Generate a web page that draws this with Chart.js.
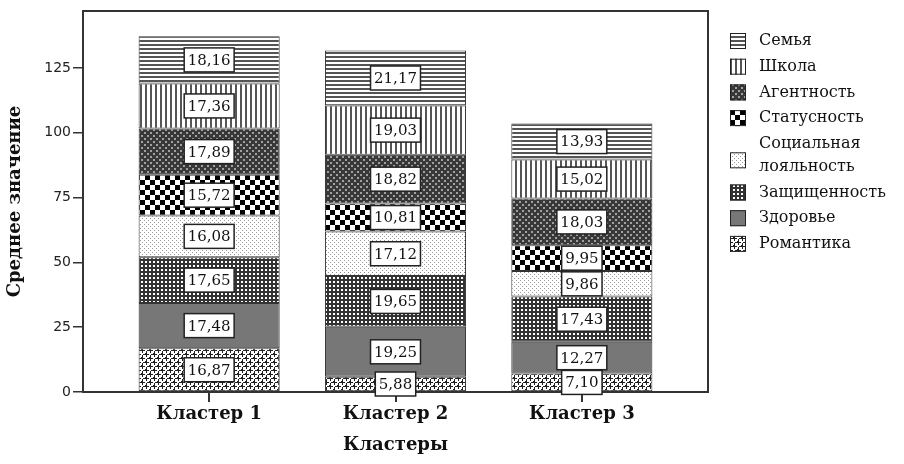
<!DOCTYPE html>
<html>
<head>
<meta charset="utf-8">
<script src="https://cdn.jsdelivr.net/npm/chart.js@4.4.1/dist/chart.umd.min.js"></script>
<style>
  html, body { margin: 0; padding: 0; background: #fff; }
  #wrap { width: 904px; height: 464px; }
</style>
</head>
<body>
<div id="wrap"><canvas id="clusterChart" width="904" height="464"></canvas></div>
<script>
const clusterLabels = ['Кластер 1', 'Кластер 2', 'Кластер 3'];
// bottom of the stack first, legend shows them in reverse
const seriesNames = ['Романтика', 'Здоровье', 'Защищенность', 'Социальная лояльность',
                     'Статусность', 'Агентность', 'Школа', 'Семья'];
const romance  = [16.87, 5.88, 7.10];
const health   = [17.48, 19.25, 12.27];
const security = [17.65, 19.65, 17.43];
const loyalty  = [16.08, 17.12, 9.86];
const status   = [15.72, 10.81, 9.95];
const agency   = [17.89, 18.82, 18.03];
const school   = [17.36, 19.03, 15.02];
const family   = [18.16, 21.17, 13.93];
const seriesValues = [romance, health, security, loyalty, status, agency, school, family];
const yTicks = [0, 25, 50, 75, 100, 125];

const serifFont = "'DejaVu Serif', 'Liberation Serif', serif";

// small tiles for the black & white fills
function tile(w, h, draw) {
    const c = document.createElement('canvas');
    c.width = w;
    c.height = h;
    const g = c.getContext('2d');
    g.fillStyle = '#fff';
    g.fillRect(0, 0, w, h);
    draw(g);
    return c.getContext('2d').createPattern(c, 'repeat');
}

const patterns = [
    // Романтика - plus signs
    tile(8, 8, g => {
        g.fillStyle = '#222';
        [[2, 2], [6, 6]].forEach(([cx, cy]) => {
            for (let dx = -8; dx <= 8; dx += 8) {
                for (let dy = -8; dy <= 8; dy += 8) {
                    g.fillRect(cx + dx - 3, cy + dy, 6, 1);
                    g.fillRect(cx + dx, cy + dy - 3, 1, 6);
                    g.fillRect(cx + dx - 1, cy + dy - 1, 2, 2);
                }
            }
        });
    }),
    // Здоровье - solid grey
    tile(4, 4, g => { g.fillStyle = '#777'; g.fillRect(0, 0, 4, 4); }),
    // Защищенность - dark grid
    tile(4, 4, g => {
        g.fillStyle = '#333'; g.fillRect(0, 0, 4, 4);
        g.fillStyle = '#fff'; g.fillRect(1, 1, 2, 2);
    }),
    // Социальная лояльность - light dots
    tile(4, 4, g => {
        g.fillStyle = '#999';
        g.fillRect(0, 0, 1, 1);
        g.fillRect(2, 2, 1, 1);
    }),
    // Статусность - checkerboard
    tile(10, 10, g => {
        g.fillStyle = '#000';
        g.fillRect(0, 0, 5, 5);
        g.fillRect(5, 5, 5, 5);
    }),
    // Агентность - dark with light dots
    tile(6, 6, g => {
        g.fillStyle = '#383838'; g.fillRect(0, 0, 6, 6);
        g.fillStyle = '#a0a0a0';
        g.fillRect(0, 0, 2, 2);
        g.fillRect(3, 3, 2, 2);
    }),
    // Школа - vertical lines
    tile(5, 5, g => { g.fillStyle = '#555'; g.fillRect(0, 0, 2, 5); }),
    // Семья - horizontal lines
    tile(4, 4, g => { g.fillStyle = '#555'; g.fillRect(0, 0, 4, 2); })
];

const datasets = seriesNames.map((name, s) => ({
    label: name,
    data: seriesValues[s].map((v, i) => ({ x: i, y: v })),
    backgroundColor: patterns[s],
    borderColor: '#333',
    borderWidth: 1,
    borderSkipped: false,
    barPercentage: 0.757,
    categoryPercentage: 1
}));

const framePlugin = {
    id: 'frame',
    beforeDatasetsDraw(chart) {
        const { ctx, chartArea: a } = chart;
        ctx.save();
        ctx.strokeStyle = '#333';
        ctx.lineWidth = 2;
        ctx.beginPath();
        ctx.moveTo(a.left, a.top);
        ctx.lineTo(a.right, a.top);
        ctx.lineTo(a.right, a.bottom);
        ctx.stroke();
        ctx.restore();
    }
};

const valueBoxes = {
    id: 'valueBoxes',
    afterDatasetsDraw(chart) {
        const { ctx } = chart;
        ctx.save();
        ctx.font = '15px ' + serifFont;
        ctx.textAlign = 'center';
        ctx.textBaseline = 'middle';
        chart.data.datasets.forEach((ds, s) => {
            chart.getDatasetMeta(s).data.forEach((bar, i) => {
                const txt = seriesValues[s][i].toFixed(2).replace('.', ',');
                const w = ctx.measureText(txt).width + 7;
                const h = 24;
                const cy = (bar.y + bar.base) / 2;
                ctx.fillStyle = '#fff';
                ctx.fillRect(bar.x - w / 2, cy - h / 2, w, h);
                ctx.strokeStyle = '#222';
                ctx.lineWidth = 1.5;
                ctx.strokeRect(bar.x - w / 2, cy - h / 2, w, h);
                ctx.fillStyle = '#111';
                ctx.fillText(txt, bar.x, cy + 1);
            });
        });
        ctx.restore();
    }
};

const sideLegend = {
    id: 'sideLegend',
    afterDraw(chart) {
        const { ctx } = chart;
        ctx.save();
        ctx.font = '16px ' + serifFont;
        ctx.textBaseline = 'middle';
        ctx.textAlign = 'left';
        let y = 41;
        for (let s = seriesNames.length - 1; s >= 0; s--) {
            const lines = seriesNames[s].split(' ');
            const iconY = lines.length > 1 ? y + (lines.length - 1) * 23 / 2 + 5 : y;
            ctx.fillStyle = patterns[s];
            ctx.fillRect(730, iconY - 8, 16, 16);
            ctx.strokeStyle = '#222';
            ctx.lineWidth = 1;
            ctx.strokeRect(730.5, iconY - 7.5, 15, 15);
            ctx.fillStyle = '#111';
            lines.forEach((ln, k) => ctx.fillText(ln, 759, y + k * 23));
            y += 25.7 + (lines.length - 1) * 23;
        }
        ctx.restore();
    }
};

const ctx = document.getElementById('clusterChart').getContext('2d');
new Chart(ctx, {
    type: 'bar',
    data: { datasets: datasets },
    options: {
        responsive: false,
        animation: false,
        devicePixelRatio: 1,
        layout: { padding: { top: 11, right: 196, left: 0, bottom: 0 } },
        plugins: {
            legend: { display: false },
            tooltip: { enabled: false }
        },
        scales: {
            x: {
                type: 'linear',
                min: -0.677,
                max: 2.677,
                stacked: true,
                offset: false,
                afterBuildTicks: s => { s.ticks = clusterLabels.map((_, i) => ({ value: i })); },
                afterFit: s => { s.height = 72; },
                grid: { display: true, offset: false, drawOnChartArea: false, drawTicks: true, tickLength: 10, color: '#333', lineWidth: 2 },
                border: { display: true, color: '#333', width: 2 },
                ticks: {
                    callback: v => clusterLabels[v],
                    autoSkip: false,
                    maxRotation: 0,
                    padding: 2,
                    color: '#111',
                    font: { family: serifFont, size: 18, weight: 'bold' }
                },
                title: {
                    display: true,
                    text: 'Кластеры',
                    color: '#111',
                    padding: { top: 0, bottom: 8 },
                    font: { family: serifFont, size: 18, weight: 'bold' }
                }
            },
            y: {
                stacked: true,
                min: 0,
                max: 147,
                afterBuildTicks: s => { s.ticks = yTicks.map(v => ({ value: v })); },
                afterFit: s => { s.width = 83; },
                grid: { display: true, drawOnChartArea: false, drawTicks: true, tickLength: 10, color: '#333', lineWidth: 1.5 },
                border: { display: true, color: '#333', width: 2 },
                ticks: {
                    padding: 2,
                    color: '#222',
                    font: { family: "'DejaVu Sans', sans-serif", size: 14 }
                },
                title: {
                    display: true,
                    text: 'Среднее значение',
                    color: '#111',
                    padding: { top: 5, bottom: 0 },
                    font: { family: serifFont, size: 18, weight: 'bold' }
                }
            }
        }
    },
    plugins: [framePlugin, valueBoxes, sideLegend]
});
</script>
</body>
</html>
